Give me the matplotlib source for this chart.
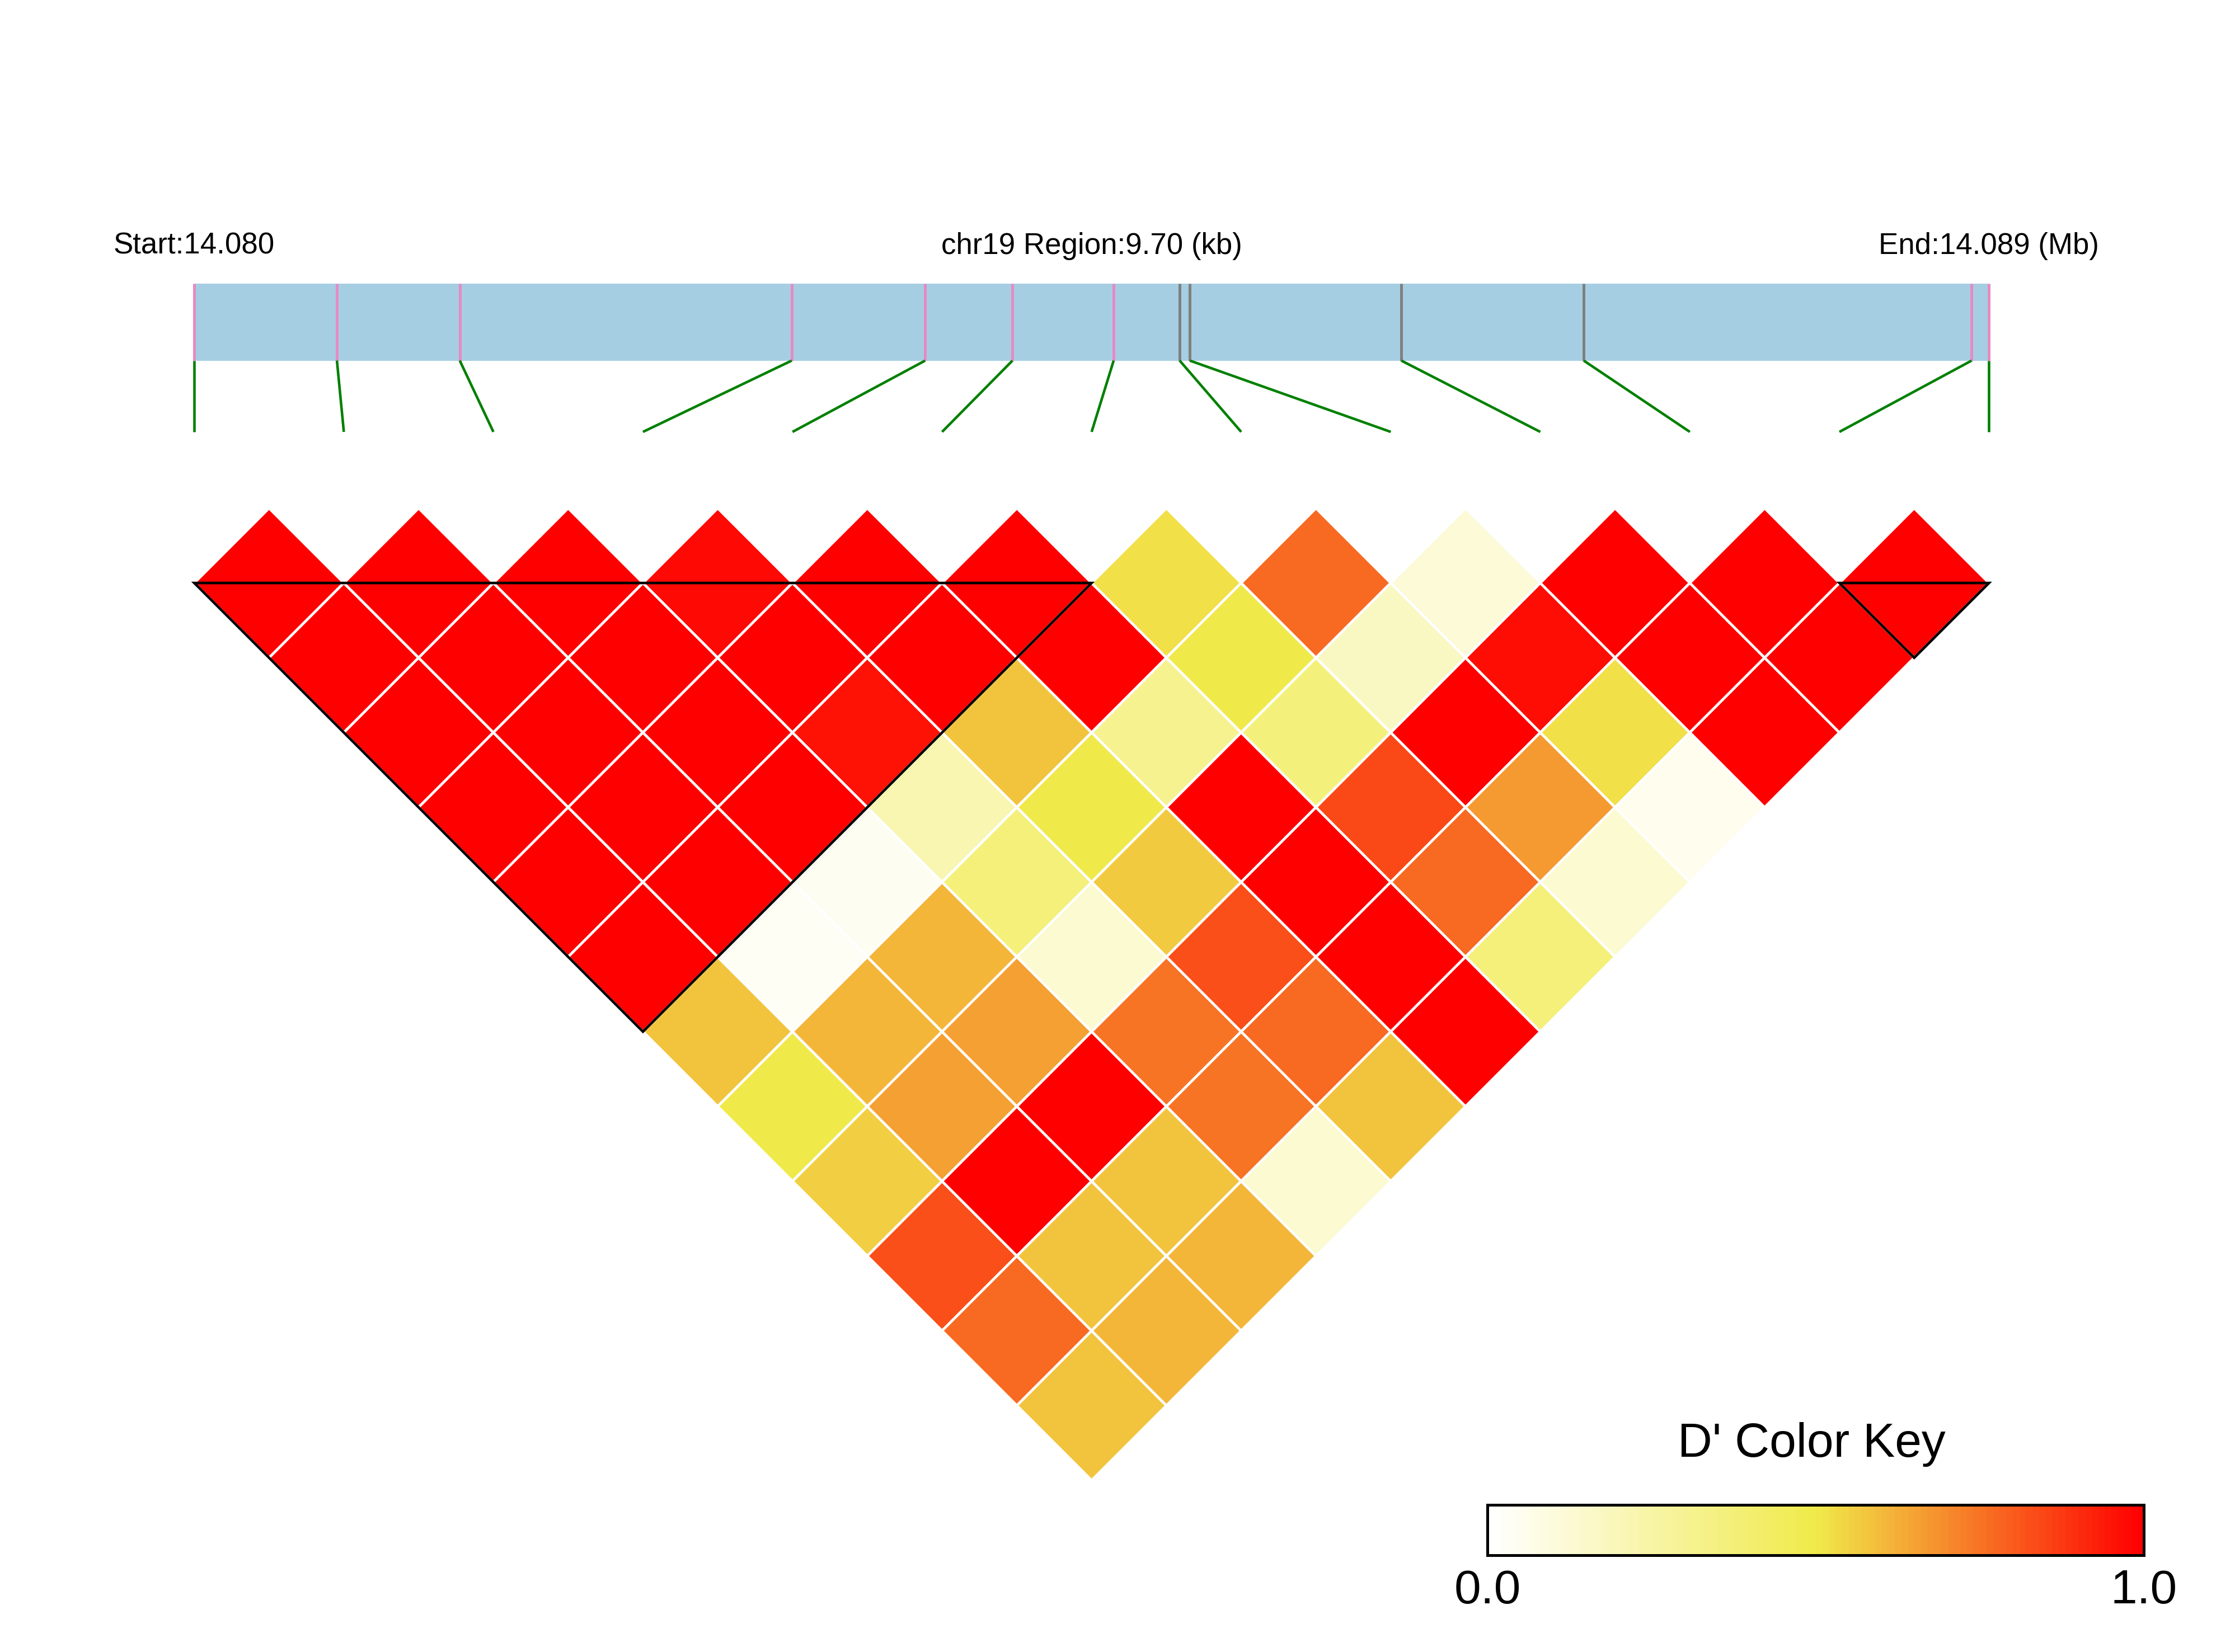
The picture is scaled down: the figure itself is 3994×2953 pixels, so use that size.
import numpy as np
import matplotlib.pyplot as plt
from matplotlib.colors import LinearSegmentedColormap
from matplotlib.patches import Polygon, Rectangle

plt.rcParams['font.family'] = ['Liberation Sans', 'DejaVu Sans']

# ---- data -------------------------------------------------------------
chrom = "chr19"
region_start = 14079620
region_end = 14089320
snp_pos = [14079620, 14080391, 14081055, 14082849, 14083570, 14084042, 14084589,
           14084946, 14085001, 14086144, 14087130, 14089226, 14089320]

# D' upper triangle: row i holds pairs (i, i+1), (i, i+2), ... (i, n-1)
dprime_rows = [
    [1, 1, 1, 1, 1, 1, 0.58, 0.50, 0.555, 0.83, 0.77, 0.58],
    [1, 1, 1, 1, 1, 0.03, 0.61, 0.66, 1, 0.58, 0.61],
    [1, 1, 1, 1, 0.04, 0.61, 0.66, 1, 0.58, 0.61],
    [0.98, 1, 0.96, 0.22, 0.37, 0.13, 0.75, 0.75, 0.13],
    [1, 1, 0.58, 0.50, 0.57, 0.83, 0.77, 0.58],
    [1, 1, 0.31, 1, 1, 1, 1],
    [0.52, 0.50, 0.36, 0.84, 0.77, 0.37],
    [0.77, 0.17, 1, 0.67, 0.13],
    [0.11, 0.97, 0.52, 0.05],
    [1, 1, 1],
    [1, 1],
    [1],
]

# haplotype blocks (first SNP index, last SNP index)
blocks = [(0, 6), (11, 12)]

key_ticks = [0.0, 1.0]

cmap = LinearSegmentedColormap.from_list(
    "ld", [(0.0, "#FFFFFF"), (0.5, "#F0EA4A"), (1.0, "#FF0000")])

# ---- layout (units of the 1568 x 1159 canvas) ----------------------------
W, H = 1568, 1159
x0, x1 = 136.3, 1395.4
bar_top, bar_bot, link_bot = 199, 253, 303
base_y = 409

fig = plt.figure(figsize=(3994 / 300, 2953 / 300), dpi=300)
ax = fig.add_axes([0, 0, 1, 1])

n = len(snp_pos)
span = region_end - region_start
phys_x = [x0 + (p - region_start) / span * (x1 - x0) for p in snp_pos]
step = (x1 - x0) / (n - 1)
even_x = [x0 + k * step for k in range(n)]
half = step / 2

in_block = set()
for a, b in blocks:
    in_block.update(range(a, b + 1))

# chromosome bar + SNP ticks + connectors
ax.add_patch(Rectangle((x0, bar_top), x1 - x0, bar_bot - bar_top,
                       facecolor='#A6CEE3', edgecolor='none'))
for k in range(n):
    c = '#E78AC3' if k in in_block else '#808080'
    ax.plot([phys_x[k], phys_x[k]], [bar_top, bar_bot], color=c, lw=1.2,
            solid_capstyle='butt')
    ax.plot([phys_x[k], even_x[k]], [bar_bot, link_bot], color='green', lw=1.1,
            solid_capstyle='butt')

# LD diamonds
for i, row in enumerate(dprime_rows):
    for k, v in enumerate(row):
        j = i + 1 + k
        cx = (even_x[i] + even_x[j]) / 2
        cy = base_y + (j - i - 1) * half
        pts = [(cx - half, cy), (cx, cy - half), (cx + half, cy), (cx, cy + half)]
        ax.add_patch(Polygon(pts, closed=True, facecolor=cmap(float(v)),
                             edgecolor='white', lw=1.1))

# block outlines
for a, b in blocks:
    xa, xb = even_x[a], even_x[b]
    tri = [(xa, base_y), (xb, base_y), ((xa + xb) / 2, base_y + (xb - xa) / 2)]
    ax.add_patch(Polygon(tri, closed=True, fill=False, edgecolor='black', lw=1.1))

# header text
ax.text(x0, 178, "Start:%.3f" % (region_start / 1e6), ha='center', va='baseline',
        fontsize=12.7)
ax.text((x0 + x1) / 2, 178, "%s Region:%.2f (kb)" % (chrom, span / 1000),
        ha='center', va='baseline', fontsize=12.7)
ax.text(x1, 178, "End:%.3f (Mb)" % (region_end / 1e6), ha='center', va='baseline',
        fontsize=12.7)

# colour key
kx0, kx1, ky0, ky1 = 1043.6, 1504.2, 1055.6, 1091
edges = np.linspace(kx0, kx1, 101)
ax.pcolormesh(edges, [ky0, ky1], np.linspace(0, 1, 100)[None, :],
              cmap=cmap, vmin=0, vmax=1, shading='flat')
ax.add_patch(Rectangle((kx0, ky0), kx1 - kx0, ky1 - ky0, fill=False,
                       edgecolor='black', lw=1.2))
ax.text((kx0 + kx1) / 2 - 3, 1022, "D' Color Key", ha='center', va='baseline',
        fontsize=20.6)
for t in key_ticks:
    ax.text(kx0 + t * (kx1 - kx0), 1125, "%.1f" % t, ha='center', va='baseline',
            fontsize=20.6)

ax.set_xlim(0, W)
ax.set_ylim(H, 0)
ax.axis('off')

fig.savefig("out.png", dpi=300, facecolor='white')
